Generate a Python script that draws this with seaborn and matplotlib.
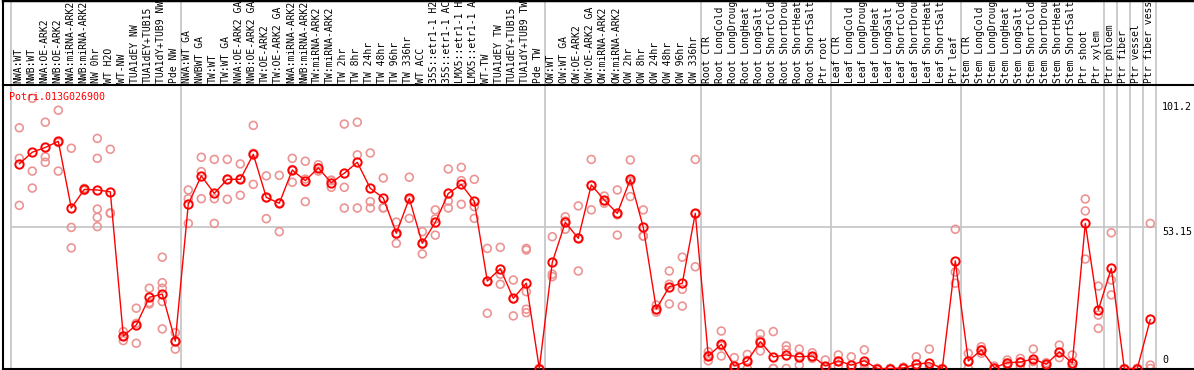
import numpy as np
import pandas as pd
import matplotlib
matplotlib.use("Agg")
import matplotlib.pyplot as plt
import seaborn as sns

# ---------------- data ----------------
title = "Potri.013G026900"

labels_nw = ["NWA:WT", "NWB:WT", "NWA:OE-ARK2", "NWB:OE-ARK2", "NWA:miRNA-ARK2",
             "NWB:miRNA-ARK2", "NW 0hr", "WT H2O", "WT-NW", "TUA1dEY NW",
             "TUA1dEY+TUB15", "TUA1dY+TUB9 NW", "Pde NW"]
labels_tw = ["NWA:WT GA", "NWBWT GA", "TW:WT", "TW:WT GA", "NWA:OE-ARK2 GA",
             "NWB:OE-ARK2 GA", "TW:OE-ARK2", "TW:OE-ARK2 GA", "NWA:miRNA-ARK2",
             "NWB:miRNA-ARK2", "TW:miRNA-ARK2", "TW:miRNA-ARK2", "TW 2hr", "TW 8hr",
             "TW 24hr", "TW 48hr", "TW 96hr", "TW 336hr", "WT ACC", "35S::etr1-1 H2O",
             "35S::etr1-1 ACC", "LMX5::etr1-1 H2O", "LMX5::etr1-1 ACC", "WT-TW",
             "TUA1dEY TW", "TUA1dEY+TUB15", "TUA1dY+TUB9 TW", "Pde TW"]
labels_ow = ["OW:WT", "OW:WT GA", "OW:OE-ARK2", "OW:OE-ARK2 GA", "OW:miRNA-ARK2",
             "OW:miRNA-ARK2", "OW 2hr", "OW 8hr", "OW 24hr", "OW 48hr", "OW 96hr", "OW 336hr"]
labels_root = ["Root CTR", "Root LongCold", "Root LongDrought", "Root LongHeat",
               "Root LongSalt", "Root ShortCold", "Root ShortDrought", "Root ShortHeat",
               "Root ShortSalt", "Ptr root"]
labels_leaf = ["Leaf CTR", "Leaf LongCold", "Leaf LongDrought", "Leaf LongHeat",
               "Leaf LongSalt", "Leaf ShortCold", "Leaf ShortDrought", "Leaf ShortHeat",
               "Leaf ShortSalt", "Ptr leaf"]
labels_stem = ["Stem CTR", "Stem LongCold", "Stem LongDrought", "Stem LongHeat",
               "Stem LongSalt", "Stem ShortCold", "Stem ShortDrought", "Stem ShortHeat",
               "Stem ShortSalt", "Ptr shoot", "Ptr xylem"]
labels_ptr = [["Ptr phloem"], ["Ptr fiber"], ["Ptr vessel"], ["Ptr fiber vessel"]]

means_nw = [77.0, 81.4, 83.2, 85.5, 60.4, 67.4, 67.2, 66.5, 12.2, 16.4, 26.8, 28.0, 10.3]
means_tw = [61.9, 72.5, 65.9, 71.2, 71.2, 80.6, 64.4, 62.2, 74.7, 70.7, 75.5, 69.9, 73.5,
            77.6, 67.8, 64.2, 50.9, 64.0, 47.1, 55.0, 65.9, 69.3, 62.9, 32.9, 37.6, 26.4,
            32.1, 0.0]
means_ow = [40.0, 55.0, 49.0, 69.1, 63.4, 58.4, 71.2, 53.1, 22.4, 30.8, 32.1, 58.4]
means_root = [4.7, 9.1, 0.9, 2.8, 10.1, 4.4, 5.1, 4.4, 4.7, 0.9]
means_leaf = [2.9, 1.3, 2.9, 0.0, 0.0, 0.2, 1.6, 2.2, 0.0, 40.5]
means_stem = [2.8, 7.0, 0.3, 2.2, 2.4, 3.6, 1.6, 6.3, 2.0, 54.6, 22.0]
means_ptr = [37.7, 0.0, 0.0, 18.5]

reps_nw = [[90.6, 79.1, 61.4], [101.7, 74.3, 67.9], [92.7, 79.7, 77.6], [97.2, 74.3, 85.0],
           [82.9, 53.1, 45.4], [67.0, 67.4, 67.8], [86.6, 79.1, 60.0, 56.9, 53.4],
           [82.5, 58.4, 58.6], [13.9, 10.5, 12.2], [22.7, 9.5, 17.0], [30.2, 24.8, 24.3],
           [41.9, 32.3, 30.2, 25.2, 14.9], [13.5, 7.3, 10.2]]
reps_tw = [[67.2, 54.6, 63.9], [74.1, 63.9, 79.5], [78.7, 63.9, 54.6], [78.7, 63.7, 71.2],
           [77.0, 65.2, 71.4], [91.5, 69.3, 81.0], [72.5, 56.4, 64.3], [72.7, 51.5, 62.3],
           [79.1, 70.1, 74.9], [78.0, 62.8, 71.3], [76.7, 74.3, 75.5], [70.7, 68.2, 70.9],
           [92.0, 68.2, 60.4], [92.7, 80.4, 60.4], [81.1, 62.8, 60.4], [71.7, 60.4, 60.5],
           [55.1, 47.1, 50.5], [72.0, 56.5, 63.5], [51.5, 46.7, 43.1], [59.7, 56.3, 50.2],
           [75.1, 63.0, 60.4], [75.7, 70.7, 61.8], [71.2, 60.9, 56.5], [45.2, 20.8, 32.8],
           [45.6, 35.5, 31.7], [33.3, 19.8, 26.2], [45.2, 44.6, 28.9, 22.3, 21.0],
           [0.0, 0.0, 0.0]]
reps_ow = [[49.6, 35.5, 34.6], [57.1, 52.4, 55.5], [61.2, 36.7, 49.1], [78.7, 59.7, 68.9],
           [64.9, 62.2, 63.1], [67.2, 50.2, 57.8], [78.5, 64.7, 70.4], [59.7, 49.9, 49.8],
           [21.2, 23.9, 22.1], [36.7, 31.7, 24.3], [41.9, 29.8, 23.5], [78.7, 38.3, 58.2]]
reps_root = [[6.3, 2.9, 4.9], [14.1, 4.7, 8.5], [4.1, 0.0, 0.0], [5.3, 3.1, 0.0],
             [13.0, 6.6, 10.7], [13.9, 0.0, 0.0], [8.5, 7.0, 0.0], [7.3, 1.3, 4.6],
             [5.9, 3.8, 4.4], [3.2, 0.0, 0.0]]
reps_leaf = [[5.1, 0.9, 2.8], [4.4, 0.0, 0.0], [7.0, 0.0, 1.7], [0.0, 0.0, 0.0],
             [0.0, 0.0, 0.0], [0.5, 0.0, 0.0], [4.4, 0.0, 0.4], [7.3, 0.0, 0.0],
             [0.0, 0.0, 0.0], [52.4, 36.3, 32.1]]
reps_stem = [[5.7, 0.0, 2.7], [8.2, 5.7, 7.1], [0.9, 0.0, 0.0], [3.2, 1.3, 2.1],
             [3.8, 0.9, 2.5], [7.3, 0.9, 2.6], [2.2, 1.0, 1.6], [8.8, 4.1, 6.0],
             [5.1, 0.0, 0.9], [63.8, 59.3, 41.2], [31.0, 20.1, 15.1]]
reps_ptr = [[51.1, 33.3, 27.7], [0.0, 0.0, 0.0], [0.0, 0.0, 0.0], [54.6, 1.3, 0.0]]

y_ticks = [0, 53.15, 101.2]
y_tick_labels = ["0", "53.15", "101.2"]

# ---------------- assemble ----------------
groups = [labels_nw, labels_tw, labels_ow, labels_root, labels_leaf, labels_stem] + labels_ptr
all_labels = [l for g in groups for l in g]
all_means = means_nw + means_tw + means_ow + means_root + means_leaf + means_stem + means_ptr
all_reps = reps_nw + reps_tw + reps_ow + reps_root + reps_leaf + reps_stem + reps_ptr
pos = np.arange(len(all_labels))

mean_df = pd.DataFrame({"pos": pos, "value": all_means, "sample": all_labels})
rep_df = pd.DataFrame([(i, v) for i, r in enumerate(all_reps) for v in r],
                      columns=["pos", "value"])

sizes = [len(g) for g in groups]
seps = [-0.65] + list(np.cumsum(sizes) - 1 + 0.4)

# ---------------- figure ----------------
sns.set_style("white")
plt.rcParams["font.family"] = ["DejaVu Sans Mono", "DejaVu Sans"]

W, H = 1194, 370
fig = plt.figure(figsize=(W / 100, H / 100), dpi=100)
left_px, head_px, bot_px = 2.5, 85, 368.5
xl = ((left_px - 19.3) / 13, (W - 19.3) / 13)
ax = fig.add_axes([left_px / W, (H - bot_px) / H, 1 - left_px / W, (bot_px - head_px) / H])
axh = fig.add_axes([left_px / W, (H - head_px) / H, 1 - left_px / W, head_px / H])

ytop = (bot_px - head_px) / 2.657
ax.set_xlim(*xl)
ax.set_ylim(0, ytop)
axh.set_xlim(*xl)
axh.set_ylim(0, 1)

for a in (ax, axh):
    a.set_xticks([])
    a.set_yticks([])
    a.set_xlabel("")
    a.set_ylabel("")
    for s in a.spines.values():
        s.set_color("black")
        s.set_linewidth(1.5)
    a.spines["right"].set_visible(False)
ax.spines["top"].set_visible(False)
axh.spines["top"].set_linewidth(2.5)

# separators
for s in seps:
    ax.axvline(s, color="#c4c4c4", lw=1.2, zorder=0)
    axh.axvline(s, color="#c4c4c4", lw=1.2, zorder=0)
ax.hlines(53.15, seps[0], seps[-1], color="#c4c4c4", lw=1.2, zorder=0)

# replicates
sns.scatterplot(data=rep_df, x="pos", y="value", ax=ax, marker="o", s=32,
                color="#ec9090", legend=False, zorder=2)
coll = ax.collections[-1]
coll.set_facecolor("none")
coll.set_edgecolor("#ec9494")
coll.set_linewidth(1.2)

# means
sns.lineplot(data=mean_df, x="pos", y="value", ax=ax, color="red", lw=1.0,
             marker="o", markersize=6.0, markerfacecolor="none",
             markeredgecolor="red", markeredgewidth=1.4, zorder=3, legend=False)
ax.set_xlabel("")
ax.set_ylabel("")

# column labels
for p, lab in zip(pos, all_labels):
    axh.text(p - 0.1, 0.025, lab, rotation=90, ha="center", va="bottom",
             fontsize=7, color="black", clip_on=True)

# title
ax.text(-0.79, 102.2, title, color="red", fontsize=7.2, ha="left", va="center")

# y labels
label_y = {0: 1.2, 53.15: 53.15, 101.2: 100.2}
for v, t in zip(y_ticks, y_tick_labels):
    ax.text(87.9, label_y[v], t, fontsize=7.2, ha="left",
            va="top" if v > 0 else "bottom", color="black")

fig.savefig("out.png", dpi=100)
